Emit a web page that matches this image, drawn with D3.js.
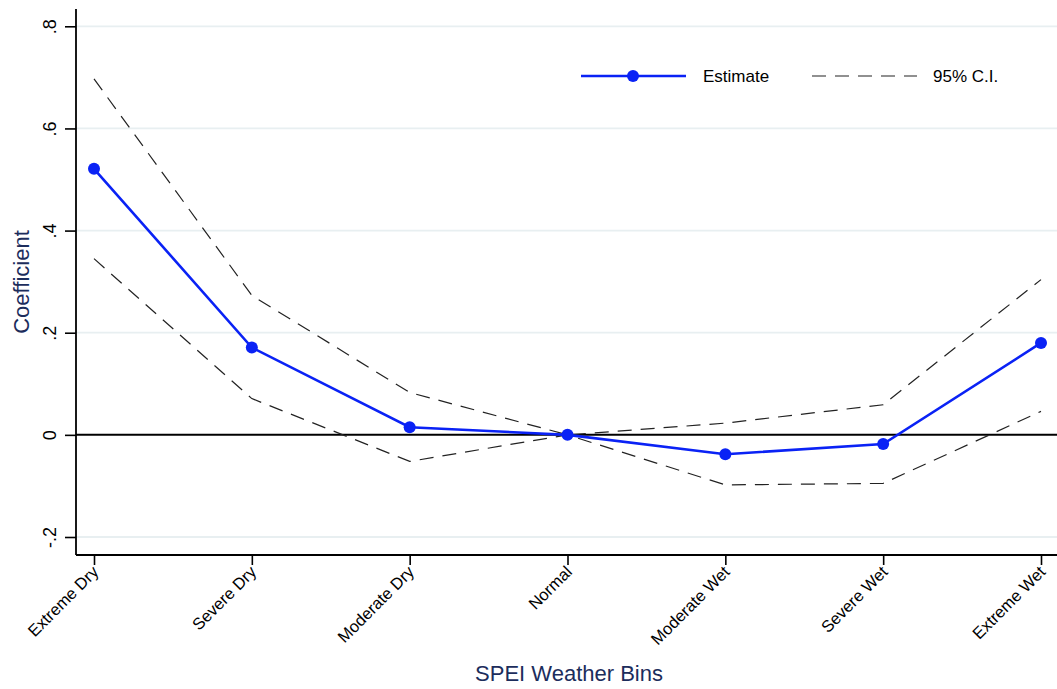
<!DOCTYPE html>
<html>
<head>
<meta charset="utf-8">
<script src="https://cdn.jsdelivr.net/npm/d3@7"></script>
<style>
  html, body { margin: 0; padding: 0; background: #fff; }
  svg { display: block; font-family: "Liberation Sans", Arial, Helvetica, sans-serif; }
</style>
</head>
<body>
<svg id="chart" width="1057" height="689"></svg>
<script>
// SPEI weather bins and estimated coefficients with 95% confidence bounds
const categories = ["Extreme Dry", "Severe Dry", "Moderate Dry", "Normal", "Moderate Wet", "Severe Wet", "Extreme Wet"];
const estimate = [0.521, 0.171, 0.015, 0.0, -0.038, -0.018, 0.180];
const ciUpper  = [0.697, 0.273, 0.083, 0.0, 0.023, 0.059, 0.304];
const ciLower  = [0.345, 0.071, -0.052, 0.0, -0.098, -0.095, 0.046];
const yTicks = [-0.2, 0, 0.2, 0.4, 0.6, 0.8];
const yTickLabels = ["-.2", "0", ".2", ".4", ".6", ".8"];

const svg = d3.select("#chart");
const plotLeft = 76, plotTop = 9, plotBottom = 555, plotRight = 1057;

const x = d3.scalePoint().domain(categories).range([94, 1041]);
const y = d3.scaleLinear().domain([-0.2, 0.8]).range([537, 26.3]);

// horizontal grid
svg.append("g").selectAll("line")
  .data(yTicks.filter(v => v !== 0))
  .join("line")
  .attr("x1", plotLeft).attr("x2", plotRight)
  .attr("y1", d => y(d)).attr("y2", d => y(d))
  .attr("stroke", "#e8eff1").attr("stroke-width", 1.8);

// zero reference line
svg.append("line")
  .attr("x1", plotLeft).attr("x2", plotRight)
  .attr("y1", y(0)).attr("y2", y(0))
  .attr("stroke", "#000").attr("stroke-width", 2);

// y axis
const yAxis = svg.append("g")
  .attr("transform", `translate(${plotLeft},0)`)
  .call(d3.axisLeft(y).tickValues(yTicks).tickFormat((d, i) => yTickLabels[i]).tickSize(11).tickPadding(0));
yAxis.select(".domain").remove();
yAxis.selectAll(".tick line").attr("stroke", "#000").attr("stroke-width", 1.6);
yAxis.selectAll(".tick text")
  .attr("font-size", 18).attr("fill", "#000")
  .attr("transform", "translate(-26,0) rotate(-90)")
  .attr("x", 0).attr("dy", "0.35em").attr("text-anchor", "middle");
svg.append("line").attr("x1", plotLeft).attr("x2", plotLeft).attr("y1", plotTop).attr("y2", plotBottom)
  .attr("stroke", "#000").attr("stroke-width", 1.8);

// x axis
const xAxis = svg.append("g")
  .attr("transform", `translate(0,${plotBottom})`)
  .call(d3.axisBottom(x).tickSize(10).tickPadding(4));
xAxis.select(".domain").remove();
xAxis.selectAll(".tick line").attr("stroke", "#000").attr("stroke-width", 1.6);
xAxis.selectAll(".tick text")
  .attr("font-size", 16.5).attr("fill", "#000")
  .attr("text-anchor", "end")
  .attr("y", 0).attr("dy", 0)
  .attr("transform", "translate(5,18) rotate(-45)");
svg.append("line").attr("x1", plotLeft).attr("x2", plotRight).attr("y1", plotBottom).attr("y2", plotBottom)
  .attr("stroke", "#000").attr("stroke-width", 1.8);

// axis titles
svg.append("text").attr("x", 569).attr("y", 681).attr("text-anchor", "middle")
  .attr("font-size", 22).attr("fill", "#1c2d5c").text("SPEI Weather Bins");
svg.append("text").attr("transform", "translate(29,282) rotate(-90)").attr("text-anchor", "middle")
  .attr("font-size", 22).attr("fill", "#1c2d5c").text("Coefficient");

const line = d3.line().x((d, i) => x(categories[i])).y(d => y(d));

// confidence bounds
[ciUpper, ciLower].forEach(s => {
  svg.append("path").datum(s).attr("d", line)
    .attr("fill", "none").attr("stroke", "#222").attr("stroke-width", 1.2)
    .attr("stroke-dasharray", "14,9");
});

// point estimates
const blue = "#0a22f5";
svg.append("path").datum(estimate).attr("d", line)
  .attr("fill", "none").attr("stroke", blue).attr("stroke-width", 2.6);
svg.append("g").selectAll("circle").data(estimate).join("circle")
  .attr("cx", (d, i) => x(categories[i])).attr("cy", d => y(d)).attr("r", 6)
  .attr("fill", blue);

// legend
const ly = 76;
svg.append("line").attr("x1", 581).attr("x2", 686).attr("y1", ly).attr("y2", ly)
  .attr("stroke", blue).attr("stroke-width", 2.6);
svg.append("circle").attr("cx", 633).attr("cy", ly).attr("r", 6).attr("fill", blue);
svg.append("text").attr("x", 703).attr("y", ly).attr("dy", "0.35em")
  .attr("font-size", 17).attr("fill", "#000").text("Estimate");
svg.append("line").attr("x1", 812).attr("x2", 917).attr("y1", ly).attr("y2", ly)
  .attr("stroke", "#222").attr("stroke-width", 1.2).attr("stroke-dasharray", "14,9");
svg.append("text").attr("x", 933).attr("y", ly).attr("dy", "0.35em")
  .attr("font-size", 17).attr("fill", "#000").text("95% C.I.");
</script>
</body>
</html>
